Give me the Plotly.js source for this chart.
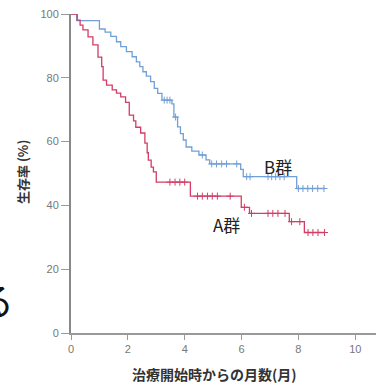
<!DOCTYPE html>
<html><head><meta charset="utf-8">
<script src="https://cdn.plot.ly/plotly-3.0.1.min.js"></script>
<style>html,body{margin:0;padding:0;background:#fff;}#c{width:377px;height:385px;}</style>
</head><body><div id="c"></div>
<script>
// Group B (blue) Kaplan-Meier steps
var bTime = [0,0.2,1.0,1.2,1.4,1.6,1.75,1.95,2.15,2.3,2.42,2.53,2.65,2.8,2.93,3.05,3.2,3.55,3.62,3.75,3.85,3.95,4.05,4.25,4.5,4.75,4.88,5.97,6.06,7.94,8.94];
var bSurv = [100,97.9,95.3,94.3,93,91.3,89.8,88.2,86.6,85,83.5,81.9,80.5,78.8,76.7,75.1,73,71.8,67.7,64.6,62.5,60.5,58.3,57,55.8,54.3,53,51.3,49,45.3,45.3];
var bCensT = [3.28,3.38,3.48,3.68,4.62,4.95,5.12,5.3,5.47,5.83,6.18,6.3,6.93,7.06,7.2,7.35,7.5,8.0,8.16,8.33,8.5,8.68,8.9];
var bCensS = [73,73,73,67.7,55.8,53,53,53,53,53,49,49,49,49,49,49,49,45.3,45.3,45.3,45.3,45.3,45.3];
// Group A (red)
var aTime = [0,0.22,0.32,0.42,0.6,0.77,0.95,1.08,1.13,1.25,1.45,1.6,1.75,1.92,2.05,2.2,2.28,2.45,2.6,2.68,2.72,2.82,2.9,3.0,4.2,5.99,6.28,7.68,8.21,8.94];
var aSurv = [100,98.1,96.5,95,92.8,90.3,86.5,83.5,79.3,77.7,76.2,75.2,74,72.3,68.3,66.5,64.5,62.7,59.5,56.5,54.2,52,50.5,47.3,42.9,39.4,37.5,34.9,31.5,31.5];
var aCensT = [3.48,3.66,3.83,4.0,4.45,4.62,4.8,4.97,5.15,5.6,6.1,6.35,6.93,7.1,7.28,7.53,7.76,8.05,8.34,8.51,8.69,8.92];
var aCensS = [47.3,47.3,47.3,47.3,42.9,42.9,42.9,42.9,42.9,42.9,39.4,37.5,37.5,37.5,37.5,37.5,34.9,34.9,31.5,31.5,31.5,31.5];
var xTicks = [0,2,4,6,8,10];
var yTicks = [0,20,40,60,80,100];

var blue = '#729fd6', red = '#d23d66';
var traces = [
 {x:bTime,y:bSurv,mode:'lines',line:{shape:'hv',color:blue,width:1.3},hoverinfo:'skip',cliponaxis:false},
 {x:aTime,y:aSurv,mode:'lines',line:{shape:'hv',color:red,width:1.3},hoverinfo:'skip',cliponaxis:false},
 {x:bCensT,y:bCensS,mode:'markers',marker:{symbol:'cross-thin',size:5,line:{color:blue,width:1}},hoverinfo:'skip'},
 {x:aCensT,y:aCensS,mode:'markers',marker:{symbol:'cross-thin',size:5,line:{color:red,width:1}},hoverinfo:'skip'}
];
var jp = '"Noto Sans CJK JP", "Noto Sans", sans-serif';
var layout = {
 width:377,height:385,
 margin:{l:71,r:1,t:14,b:52},
 paper_bgcolor:'#fff',plot_bgcolor:'#fff',
 showlegend:false,
 xaxis:{range:[0,10.73],tickvals:xTicks,ticktext:xTicks.map(String),showgrid:false,zeroline:false,
   showline:true,linecolor:'#999',linewidth:1.5,ticks:'outside',ticklen:5,tickcolor:'#999',tickwidth:1,
   tickfont:{family:'"Liberation Sans", Arial, sans-serif',size:11,color:'#777'}},
 yaxis:{range:[0,100],tickvals:yTicks,ticktext:yTicks.map(String),showgrid:false,zeroline:false,
   showline:true,linecolor:'#888',linewidth:2,ticks:'outside',ticklen:8,tickcolor:'#999',tickwidth:1,
   tickfont:{family:'"Liberation Sans", Arial, sans-serif',size:11,color:'#777'}},
 annotations:[
  {xref:'paper',yref:'paper',x:(214-71)/305,y:(333-374)/319,text:'治療開始時からの月数(月)',showarrow:false,
   xanchor:'center',yanchor:'middle',font:{family:jp,size:14,color:'#333',weight:'bold'}},
  {xref:'paper',yref:'paper',x:(22-71)/305,y:(333-172)/319,text:'生存率 (%)',showarrow:false,textangle:-90,
   xanchor:'center',yanchor:'middle',font:{family:jp,size:13,color:'#333',weight:'bold'}},
  {xref:'paper',yref:'paper',x:(278-71)/305,y:(333-167)/319,text:'B群',showarrow:false,
   xanchor:'center',yanchor:'middle',font:{family:jp,size:17,color:'#222'}},
  {xref:'paper',yref:'paper',x:(226-71)/305,y:(333-224)/319,text:'A群',showarrow:false,
   xanchor:'center',yanchor:'middle',font:{family:jp,size:17,color:'#222'}},
  {xref:'paper',yref:'paper',x:(16-71)/305,y:(333-298)/319,text:'る',showarrow:false,
   xanchor:'right',yanchor:'middle',font:{family:jp,size:38,color:'#111'}}
 ]
};
Plotly.newPlot('c',traces,layout,{staticPlot:true,displayModeBar:false});
</script></body></html>
